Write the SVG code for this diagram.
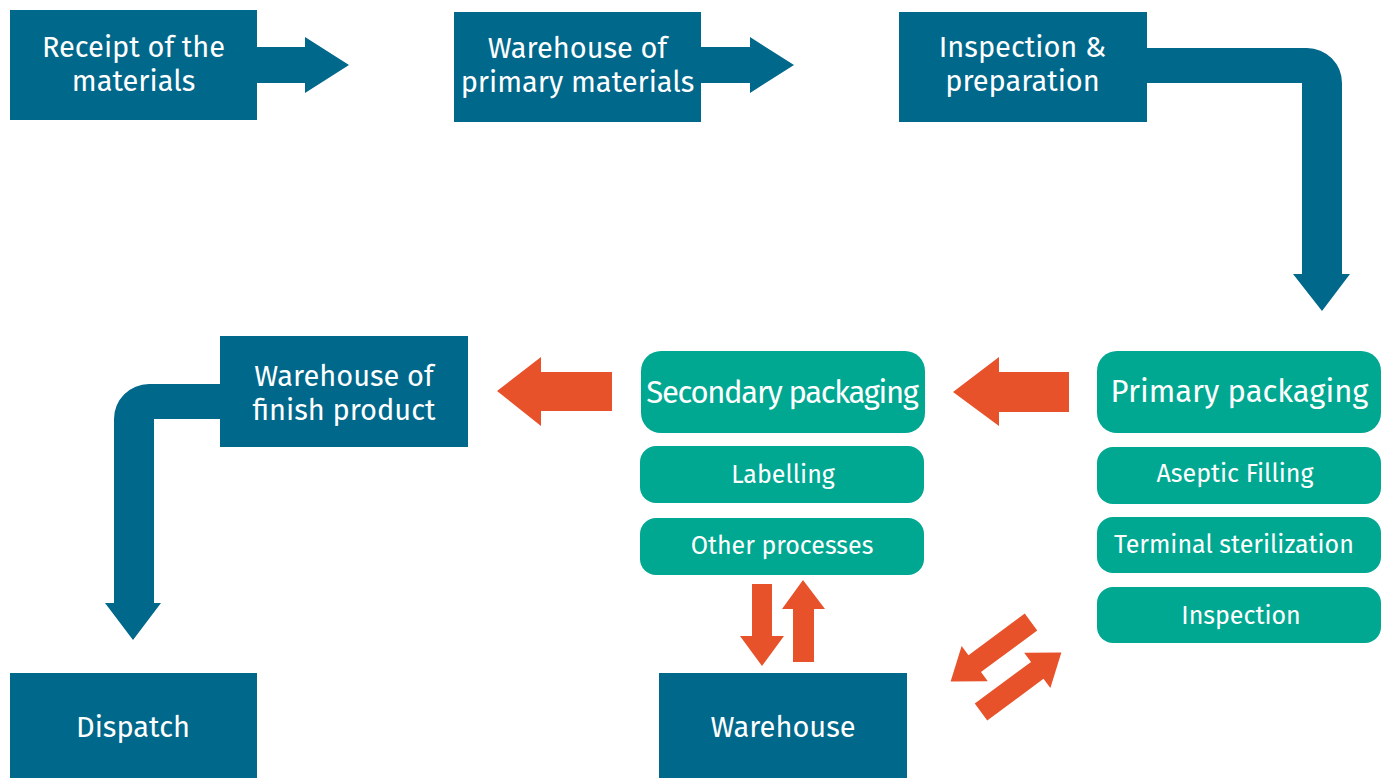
<svg xmlns="http://www.w3.org/2000/svg" width="1388" height="778" viewBox="0 0 1388 778">
<defs>
<style>
.blue{fill:#00688b}
.teal{fill:#00a892}
.orange{fill:#e8522a}
text{font-family:"Fira Sans","Noto Sans","Open Sans",sans-serif;font-weight:400;fill:#ffffff;text-anchor:middle}
.t1{font-size:29px}
.t2{font-size:31px}
.t3{font-size:25px}
</style>
<path id="diag" d="M0,-10.5 H70 V-22 L100,0 L70,22 V10.5 H0 Z"/>
</defs>
<rect width="1388" height="778" fill="#ffffff"/>
<g id="connectors">
<path class="blue" d="M257,47 H305 V37 L349,65 L305,93 V83 H257 Z"/>
<path class="blue" d="M701,47 H750 V37 L794,65 L750,93 V83 H701 Z"/>
<path class="blue" d="M1147,48 H1307 A35,35 0 0 1 1342,83 V274 H1350 L1322,311 L1293,274 H1302 V83 H1147 Z"/>
<path class="blue" d="M220,384 H149 A35,35 0 0 0 114,419 V603 H105 L133,640 L161,603 H154 V419 H220 Z"/>
<path class="orange" d="M612,372 H541 V357 L497,391 L541,426 V411 H612 Z"/>
<path class="orange" d="M1069,372 H999 V357 L953,392 L999,426 V412 H1069 Z"/>
<path class="orange" d="M752,584 H772 V636 H784 L762,666 L740,636 H752 Z"/>
<path class="orange" d="M793,662 V609 H782 L803,580 L825,609 H814 V662 Z"/>
<use href="#diag" class="orange" transform="translate(1031,622) rotate(143.5)"/>
<use href="#diag" class="orange" transform="translate(981,712) rotate(-36.5)"/>
</g>
<g id="receipt">
<rect class="blue" x="10" y="10" width="247" height="110"/>
<text class="t1" x="133.5" y="57">Receipt of the</text>
<text class="t1" x="133.5" y="91">materials</text>
</g>
<g id="warehouse-primary">
<rect class="blue" x="454" y="12" width="247" height="110"/>
<text class="t1" x="577.5" y="58">Warehouse of</text>
<text class="t1" x="577.5" y="92">primary materials</text>
</g>
<g id="inspection-prep">
<rect class="blue" x="899" y="12" width="248" height="110"/>
<text class="t1" x="1022.5" y="57">Inspection &amp;</text>
<text class="t1" x="1022.5" y="91">preparation</text>
</g>
<g id="primary-packaging">
<rect class="teal" x="1097" y="351" width="284" height="82" rx="20"/>
<text class="t2" x="1239.5" y="402">Primary packaging</text>
</g>
<g id="aseptic-filling">
<rect class="teal" x="1097" y="447" width="284" height="57" rx="16"/>
<text class="t3" x="1235" y="482">Aseptic Filling</text>
</g>
<g id="terminal-sterilization">
<rect class="teal" x="1097" y="517" width="284" height="56" rx="16"/>
<text class="t3" x="1234" y="553">Terminal sterilization</text>
</g>
<g id="inspection">
<rect class="teal" x="1097" y="587" width="284" height="56" rx="16"/>
<text class="t3" x="1241" y="624">Inspection</text>
</g>
<g id="secondary-packaging">
<rect class="teal" x="641" y="351" width="284" height="82" rx="20"/>
<text class="t2" x="782" y="403" letter-spacing="-1.3">Secondary packaging</text>
</g>
<g id="labelling">
<rect class="teal" x="640" y="446" width="284" height="57" rx="16"/>
<text class="t3" x="783" y="483">Labelling</text>
</g>
<g id="other-processes">
<rect class="teal" x="640" y="518" width="284" height="57" rx="16"/>
<text class="t3" x="782" y="554">Other processes</text>
</g>
<g id="warehouse-finish">
<rect class="blue" x="220" y="336" width="248" height="111"/>
<text class="t1" x="344" y="386">Warehouse of</text>
<text class="t1" x="344" y="420">finish product</text>
</g>
<g id="dispatch">
<rect class="blue" x="10" y="673" width="247" height="105"/>
<text class="t1" x="133" y="737">Dispatch</text>
</g>
<g id="warehouse">
<rect class="blue" x="659" y="673" width="248" height="105"/>
<text class="t1" x="783" y="737">Warehouse</text>
</g>
</svg>
